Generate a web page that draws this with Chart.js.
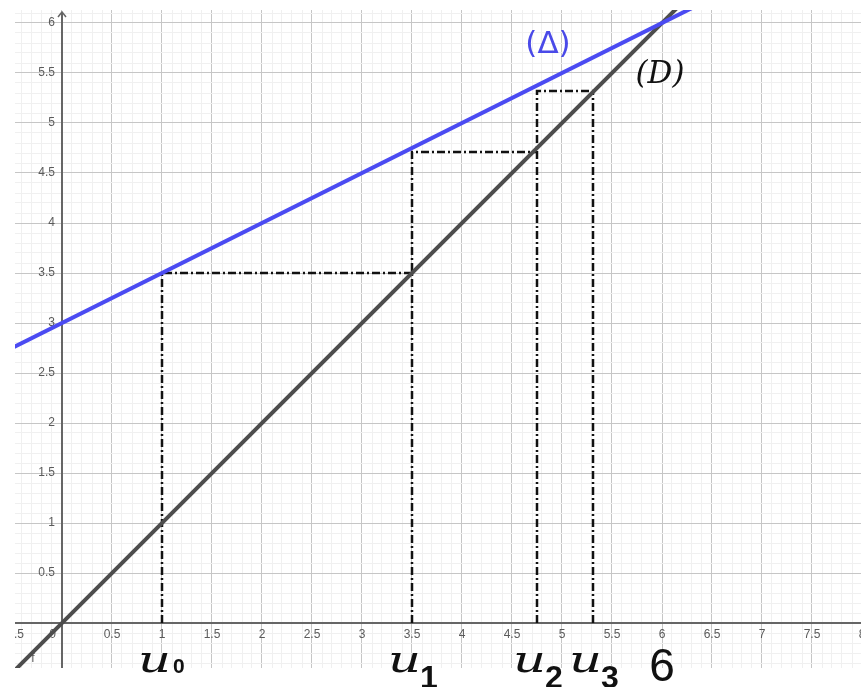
<!DOCTYPE html>
<html>
<head>
<meta charset="utf-8">
<script src="https://cdn.jsdelivr.net/npm/chart.js@4"></script>
<style>
  html, body { margin: 0; padding: 0; background: #fff; }
  #wrap { width: 863px; height: 687px; }
</style>
</head>
<body>
<div id="wrap"><canvas id="cobwebChart" width="863" height="687"></canvas></div>
<script>
// (D) : y = x and (Δ) : y = x/2 + 3, each given by two end points (clipped by the chart area)
const lineDX = [-0.6, 6.4];
const lineDY = [-0.6, 6.4];
const lineDeltaX = [-0.6, 6.4];
const lineDeltaY = [2.7, 6.2];

// cobweb steps u0 -> u3
const stepX = [[1, 1, 3.5], [3.5, 3.5, 4.75], [4.75, 4.75, 5.31], [5.31, 5.31]];
const stepY = [[0, 3.5, 3.5], [0, 4.71, 4.71], [0, 5.32, 5.32], [0, 5.32]];

// sequence names written under the x axis
const seqValues = [1, 3.5, 4.75, 5.31];
const seqSubs = ['0', '1', '2', '3'];

// axis tick labels
const xTickValues = [-0.5, 0, 0.5, 1, 1.5, 2, 2.5, 3, 3.5, 4, 4.5, 5, 5.5, 6, 6.5, 7, 7.5, 8];
const xTickLabels = ['-0.5', '0', '0.5', '1', '1.5', '2', '2.5', '3', '3.5', '4', '4.5', '5', '5.5', '6', '6.5', '7', '7.5', '8'];
const yTickValues = [0.5, 1, 1.5, 2, 2.5, 3, 3.5, 4, 4.5, 5, 5.5, 6];
const yTickLabels = ['0.5', '1', '1.5', '2', '2.5', '3', '3.5', '4', '4.5', '5', '5.5', '6'];

const toPoints = (xs, ys) => xs.map((v, i) => ({ x: v, y: ys[i] }));

const gridColor = (c) => {
  const v = c.tick.value;
  return Math.abs(v * 2 - Math.round(v * 2)) < 1e-6 ? '#c6c6c6' : '#f0f0f0';
};

const geoAxes = {
  id: 'geoAxes',
  beforeDatasetsDraw(chart) {
    const { ctx, chartArea: a, scales: { x, y } } = chart;
    const x0 = x.getPixelForValue(0);
    const y0 = y.getPixelForValue(0);
    ctx.save();
    ctx.beginPath();
    ctx.rect(a.left, a.top, a.right - a.left, a.bottom - a.top);
    ctx.clip();

    ctx.strokeStyle = '#666';
    ctx.lineWidth = 2;
    ctx.beginPath();
    ctx.moveTo(a.left, y0);
    ctx.lineTo(a.right, y0);
    ctx.moveTo(x0, a.bottom);
    ctx.lineTo(x0, a.top + 2);
    ctx.stroke();
    // arrow on the y axis
    ctx.lineWidth = 1.5;
    ctx.beginPath();
    ctx.moveTo(x0 - 4, a.top + 7);
    ctx.lineTo(x0, a.top + 2);
    ctx.lineTo(x0 + 4, a.top + 7);
    ctx.stroke();

    ctx.fillStyle = '#5a5a5a';
    ctx.font = '12px "Liberation Sans", Arial, sans-serif';
    ctx.textBaseline = 'middle';
    xTickValues.forEach((v, i) => {
      const px = x.getPixelForValue(v);
      if (v === 0) {
        ctx.textAlign = 'right';
        ctx.fillText(xTickLabels[i], px - 6, y0 + 12);
      } else if (v < 0) {
        ctx.textAlign = 'right';
        ctx.fillText(xTickLabels[i], px + 12, y0 + 12);
      } else {
        ctx.textAlign = 'center';
        ctx.fillText(xTickLabels[i], px, y0 + 12);
      }
    });
    ctx.textAlign = 'right';
    yTickValues.forEach((v, i) => {
      ctx.fillText(yTickLabels[i], x0 - 7, y.getPixelForValue(v));
    });
    ctx.textAlign = 'center';
    ctx.fillText('f', x.getPixelForValue(-0.29), y.getPixelForValue(-0.36));
    ctx.restore();
  },
  afterDraw(chart) {
    const { ctx, scales: { x, y } } = chart;
    ctx.save();
    // line names
    ctx.fillStyle = '#4a4ae8';
    ctx.font = '31px "DejaVu Sans", sans-serif';
    ctx.textAlign = 'center';
    ctx.textBaseline = 'middle';
    ctx.fillText('(Δ)', x.getPixelForValue(4.86), y.getPixelForValue(5.78));
    ctx.fillStyle = '#111';
    ctx.font = 'italic 31px "DejaVu Serif", serif';
    ctx.fillText('(D)', x.getPixelForValue(5.98), y.getPixelForValue(5.48));

    // u0 .. u3 and the limit 6 under the x axis
    const base = y.getPixelForValue(0) + 49;
    ctx.textBaseline = 'alphabetic';
    seqValues.forEach((v, i) => {
      const px = x.getPixelForValue(v);
      ctx.save();
      ctx.translate(px + 9, base);
      ctx.scale(1.35, 1);
      ctx.textAlign = 'right';
      ctx.font = 'italic 38px "DejaVu Serif", serif';
      ctx.fillText('u', 0, 0);
      ctx.restore();
      ctx.textAlign = 'left';
      if (i === 0) {
        ctx.font = 'bold 21px "Liberation Sans", sans-serif';
        ctx.fillText(seqSubs[i], px + 11, base + 1);
      } else {
        ctx.font = 'bold 32px "Liberation Sans", sans-serif';
        ctx.fillText(seqSubs[i], px + 8, base + 16);
      }
    });
    ctx.textAlign = 'center';
    ctx.font = '46px "Liberation Sans", sans-serif';
    ctx.fillText('6', x.getPixelForValue(6), base + 9);
    ctx.restore();
  }
};

const stepSets = stepX.map((xs, i) => ({
  data: toPoints(xs, stepY[i]),
  showLine: true,
  borderColor: '#111',
  borderWidth: 2.5,
  borderDash: [8, 3, 2, 3],
  pointRadius: 0
}));

new Chart(document.getElementById('cobwebChart'), {
  type: 'scatter',
  data: {
    datasets: [
      {
        label: '(Δ)',
        data: toPoints(lineDeltaX, lineDeltaY),
        showLine: true,
        borderColor: '#4b4bf2',
        borderWidth: 4,
        pointRadius: 0
      },
      {
        label: '(D)',
        data: toPoints(lineDX, lineDY),
        showLine: true,
        borderColor: '#4d4d4d',
        borderWidth: 4,
        pointRadius: 0
      },
      ...stepSets
    ]
  },
  options: {
    responsive: false,
    animation: false,
    devicePixelRatio: 1,
    layout: { padding: { left: 15, top: 10, right: 2, bottom: 19 } },
    plugins: {
      legend: { display: false },
      tooltip: { enabled: false }
    },
    scales: {
      x: {
        type: 'linear',
        min: -0.47,
        max: 7.99,
        ticks: { display: false, stepSize: 0.1, includeBounds: false },
        grid: { drawTicks: false, color: gridColor },
        border: { display: false }
      },
      y: {
        type: 'linear',
        min: -0.45,
        max: 6.13,
        ticks: { display: false, stepSize: 0.1, includeBounds: false },
        grid: { drawTicks: false, color: gridColor },
        border: { display: false }
      }
    }
  },
  plugins: [geoAxes]
});
</script>
</body>
</html>
